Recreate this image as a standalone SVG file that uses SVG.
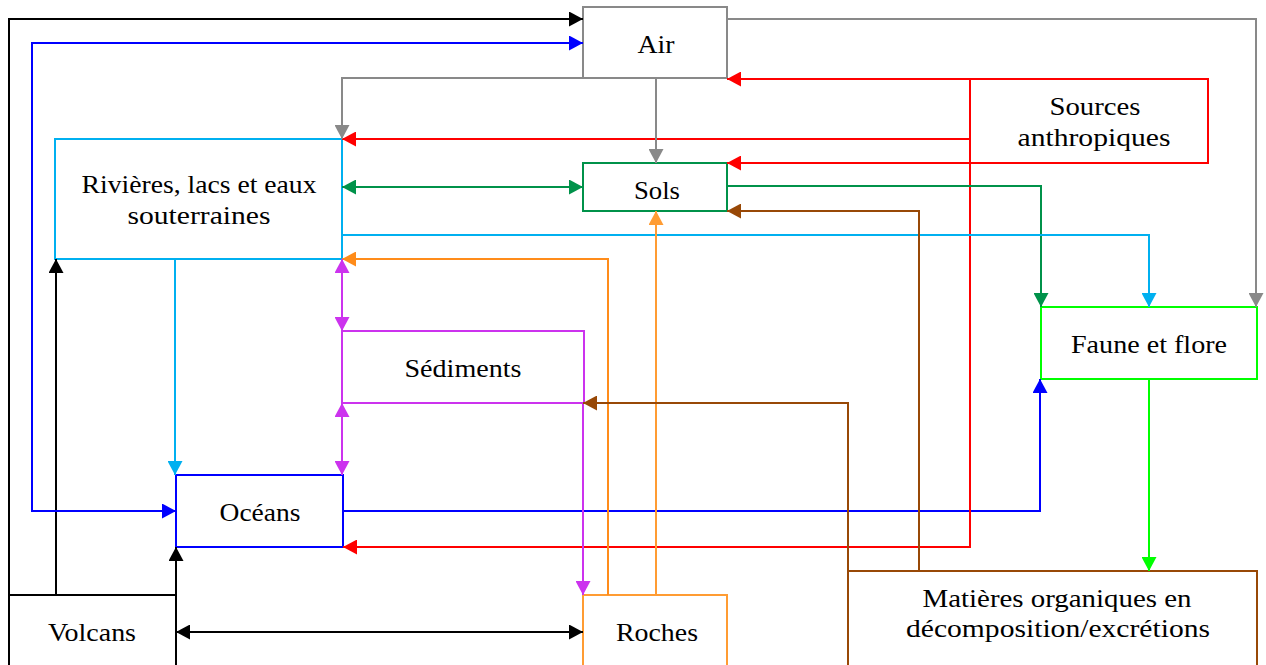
<svg xmlns="http://www.w3.org/2000/svg" width="1266" height="665" viewBox="0 0 1266 665">
<style>
.box{fill:#ffffff;stroke-width:2}
.t{font-family:"Liberation Serif","DejaVu Serif",serif;font-size:26px;fill:#000;text-anchor:middle}
.c{fill:none;stroke-width:2}
</style>
<defs>
<marker id="mk" viewBox="0 0 14 15" markerWidth="14" markerHeight="15" refX="14" refY="7.5" orient="auto-start-reverse" markerUnits="userSpaceOnUse"><path d="M0,0 L14,7.5 L0,15 z" fill="#000"/></marker>
<marker id="mb" viewBox="0 0 14 15" markerWidth="14" markerHeight="15" refX="14" refY="7.5" orient="auto-start-reverse" markerUnits="userSpaceOnUse"><path d="M0,0 L14,7.5 L0,15 z" fill="#0000ff"/></marker>
<marker id="mr" viewBox="0 0 14 15" markerWidth="14" markerHeight="15" refX="14" refY="7.5" orient="auto-start-reverse" markerUnits="userSpaceOnUse"><path d="M0,0 L14,7.5 L0,15 z" fill="#ff0000"/></marker>
<marker id="mg" viewBox="0 0 14 15" markerWidth="14" markerHeight="15" refX="14" refY="7.5" orient="auto-start-reverse" markerUnits="userSpaceOnUse"><path d="M0,0 L14,7.5 L0,15 z" fill="#898989"/></marker>
<marker id="mdg" viewBox="0 0 14 15" markerWidth="14" markerHeight="15" refX="14" refY="7.5" orient="auto-start-reverse" markerUnits="userSpaceOnUse"><path d="M0,0 L14,7.5 L0,15 z" fill="#00924a"/></marker>
<marker id="mlb" viewBox="0 0 14 15" markerWidth="14" markerHeight="15" refX="14" refY="7.5" orient="auto-start-reverse" markerUnits="userSpaceOnUse"><path d="M0,0 L14,7.5 L0,15 z" fill="#00b0f0"/></marker>
<marker id="mo" viewBox="0 0 14 15" markerWidth="14" markerHeight="15" refX="14" refY="7.5" orient="auto-start-reverse" markerUnits="userSpaceOnUse"><path d="M0,0 L14,7.5 L0,15 z" fill="#ff8c1a"/></marker>
<marker id="mo2" viewBox="0 0 14 15" markerWidth="14" markerHeight="15" refX="14" refY="7.5" orient="auto-start-reverse" markerUnits="userSpaceOnUse"><path d="M0,0 L14,7.5 L0,15 z" fill="#ff9c33"/></marker>
<marker id="mp" viewBox="0 0 14 15" markerWidth="14" markerHeight="15" refX="14" refY="7.5" orient="auto-start-reverse" markerUnits="userSpaceOnUse"><path d="M0,0 L14,7.5 L0,15 z" fill="#cc33ee"/></marker>
<marker id="mbr" viewBox="0 0 14 15" markerWidth="14" markerHeight="15" refX="14" refY="7.5" orient="auto-start-reverse" markerUnits="userSpaceOnUse"><path d="M0,0 L14,7.5 L0,15 z" fill="#984806"/></marker>
<marker id="mbg" viewBox="0 0 14 15" markerWidth="14" markerHeight="15" refX="14" refY="7.5" orient="auto-start-reverse" markerUnits="userSpaceOnUse"><path d="M0,0 L14,7.5 L0,15 z" fill="#00ff00"/></marker>
</defs>
<rect width="1266" height="665" fill="#ffffff"/>

<g id="air"><rect class="box" x="583" y="7" width="144" height="71" stroke="#898989"/><text class="t" x="656" y="53" textLength="37" lengthAdjust="spacingAndGlyphs">Air</text></g>
<g id="sources"><rect class="box" x="970" y="79" width="238" height="84" stroke="#ff0000"/><text class="t" x="1095" y="115" textLength="91" lengthAdjust="spacingAndGlyphs">Sources</text><text class="t" x="1094" y="146" textLength="153" lengthAdjust="spacingAndGlyphs">anthropiques</text></g>
<g id="rivieres"><rect class="box" x="55" y="139" width="287" height="120" stroke="#00b0f0"/><text class="t" x="199" y="193" textLength="235" lengthAdjust="spacingAndGlyphs">Rivières, lacs et eaux</text><text class="t" x="199" y="224" textLength="143" lengthAdjust="spacingAndGlyphs">souterraines</text></g>
<g id="sols"><rect class="box" x="583" y="163" width="144" height="48" stroke="#00924a"/><text class="t" x="657" y="199" textLength="46" lengthAdjust="spacingAndGlyphs">Sols</text></g>
<g id="faune"><rect class="box" x="1041" y="307" width="216" height="72" stroke="#00ff00"/><text class="t" x="1149" y="353" textLength="156" lengthAdjust="spacingAndGlyphs">Faune et flore</text></g>
<g id="sediments"><rect class="box" x="342" y="331" width="242" height="72" stroke="#cc33ee"/><text class="t" x="463" y="377" textLength="117" lengthAdjust="spacingAndGlyphs">Sédiments</text></g>
<g id="oceans"><rect class="box" x="176" y="475" width="167" height="72" stroke="#0000ff"/><text class="t" x="260" y="521" textLength="81" lengthAdjust="spacingAndGlyphs">Océans</text></g>
<g id="volcans"><rect class="box" x="9" y="595" width="167" height="100" stroke="#000000"/><text class="t" x="92" y="641" textLength="88" lengthAdjust="spacingAndGlyphs">Volcans</text></g>
<g id="roches"><rect class="box" x="583" y="595" width="144" height="100" stroke="#ff9c33"/><text class="t" x="657" y="641" textLength="82" lengthAdjust="spacingAndGlyphs">Roches</text></g>
<g id="matieres"><rect class="box" x="848" y="571" width="409" height="100" stroke="#984806"/><text class="t" x="1057" y="607" textLength="269" lengthAdjust="spacingAndGlyphs">Matières organiques en</text><text class="t" x="1058" y="637" textLength="304" lengthAdjust="spacingAndGlyphs">décomposition/excrétions</text></g>

<g id="connectors">
<path class="c" stroke="#000" d="M9,595 V19 H583" marker-end="url(#mk)"/>
<path class="c" stroke="#000" d="M56,595 V259" marker-end="url(#mk)"/>
<path class="c" stroke="#000" d="M176,595 V547" marker-end="url(#mk)"/>
<path class="c" stroke="#000" d="M176,632 H583" marker-start="url(#mk)" marker-end="url(#mk)"/>
<path class="c" stroke="#0000ff" d="M583,43 H32 V511 H176" marker-start="url(#mb)" marker-end="url(#mb)"/>
<path class="c" stroke="#0000ff" d="M343,511 H1040 V379" marker-end="url(#mb)"/>
<path class="c" stroke="#ff0000" d="M970,79 H727" marker-end="url(#mr)"/>
<path class="c" stroke="#ff0000" d="M970,139 H342" marker-end="url(#mr)"/>
<path class="c" stroke="#ff0000" d="M970,163 H727" marker-end="url(#mr)"/>
<path class="c" stroke="#ff0000" d="M970,79 V547 H343" marker-end="url(#mr)"/>
<path class="c" stroke="#898989" d="M727,19 H1256 V307" marker-end="url(#mg)"/>
<path class="c" stroke="#898989" d="M583,78 H342 V139" marker-end="url(#mg)"/>
<path class="c" stroke="#898989" d="M656,78 V163" marker-end="url(#mg)"/>
<path class="c" stroke="#00924a" d="M342,187 H583" marker-start="url(#mdg)" marker-end="url(#mdg)"/>
<path class="c" stroke="#00924a" d="M727,186 H1041 V307" marker-end="url(#mdg)"/>
<path class="c" stroke="#00b0f0" d="M342,235 H1149 V307" marker-end="url(#mlb)"/>
<path class="c" stroke="#00b0f0" d="M175,259 V475" marker-end="url(#mlb)"/>
<path class="c" stroke="#ff8c1a" d="M608,595 V259 H342" marker-end="url(#mo)"/>
<path class="c" stroke="#ff9c33" d="M656,595 V211" marker-end="url(#mo2)"/>
<path class="c" stroke="#cc33ee" d="M342,259 V331" marker-start="url(#mp)" marker-end="url(#mp)"/>
<path class="c" stroke="#cc33ee" d="M342,403 V475" marker-start="url(#mp)" marker-end="url(#mp)"/>
<path class="c" stroke="#cc33ee" d="M583,403 V595" marker-end="url(#mp)"/>
<path class="c" stroke="#984806" d="M919,571 V211 H727" marker-end="url(#mbr)"/>
<path class="c" stroke="#984806" d="M848,571 V403 H583" marker-end="url(#mbr)"/>
<path class="c" stroke="#00ff00" d="M1149,379 V571" marker-end="url(#mbg)"/>
</g>
</svg>
